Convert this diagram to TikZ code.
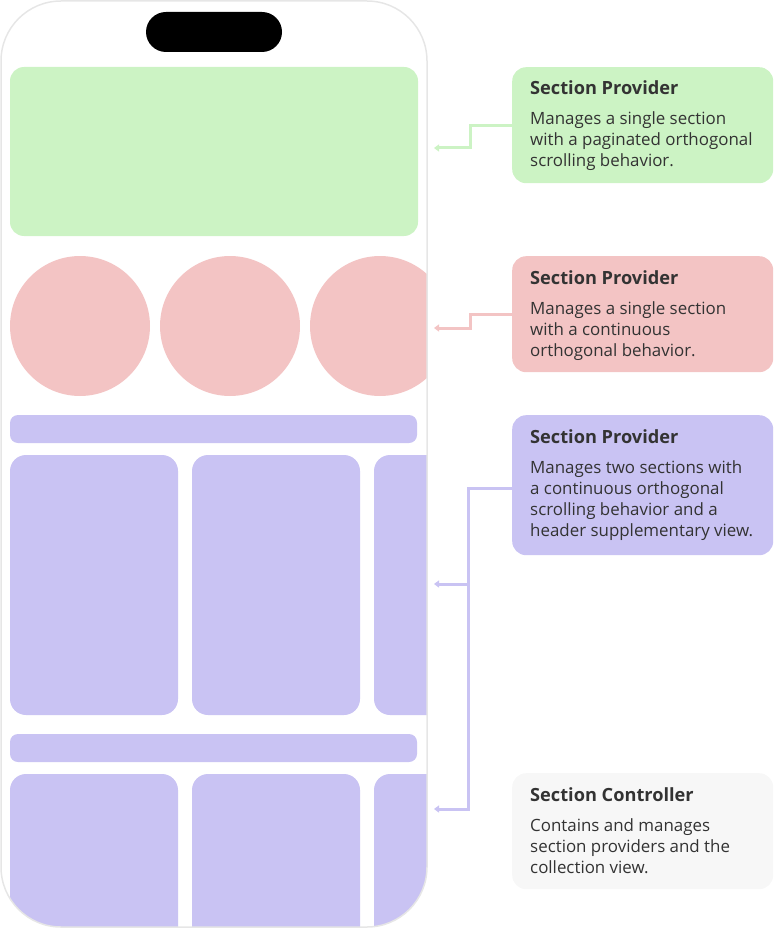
\documentclass[tikz,border=0pt]{standalone}
\usepackage{fontspec}
\setmainfont{Open Sans}
\usetikzlibrary{arrows.meta}
\definecolor{cgreen}{HTML}{CCF3C4}
\definecolor{cpink}{HTML}{F3C4C4}
\definecolor{cpurple}{HTML}{C9C3F3}
\definecolor{cgray}{HTML}{F7F7F7}
\definecolor{ctext}{HTML}{333333}
\definecolor{cborder}{HTML}{E6E6E6}
\tikzset{
  infobox/.style={rectangle, rounded corners=14pt, minimum width=261pt, inner sep=0pt, anchor=north west},
  titletext/.style={anchor=base west, inner sep=0pt, text=ctext, font=\fontsize{18.2}{21}\selectfont\bfseries},
  bodytext/.style={anchor=base west, inner sep=0pt, text=ctext, font=\fontsize{16.9}{21}\selectfont},
  conn/.style={line width=3pt, -{Triangle[length=5pt,width=7pt]}},
  card/.style={rounded corners=16pt},
}
\begin{document}
\begin{tikzpicture}[x=1pt,y=-1pt]
\useasboundingbox (0,0) rectangle (773,928);
% phone contents
\begin{scope}
\clip[rounded corners=60pt] (1,1) rectangle (427,927);
\fill[cgreen, rounded corners=14pt] (10,67) rectangle (418,236);
\foreach \cx in {80,230,380} \fill[cpink] (\cx,326) circle[radius=70pt];
\fill[cpurple, rounded corners=8pt] (10,415) rectangle (417,443);
\foreach \xa in {10,192,374} \fill[cpurple, card] (\xa,455) rectangle ++(168,260);
\fill[cpurple, rounded corners=8pt] (10,734) rectangle (417,762);
\foreach \xa in {10,192,374} \fill[cpurple, card] (\xa,774) rectangle ++(168,220);
\end{scope}
\draw[cborder, line width=1.5pt, rounded corners=60pt] (1,1) rectangle (427,927);
\fill[black, rounded corners=20pt] (146,12) rectangle (282,52);

% info boxes
\node[infobox, fill=cgreen, minimum height=116pt] (gbox) at (512,67) {};
\node[titletext] (gt) at (530,95) {Section Provider};
\node[bodytext] (g1) at (530,125) {Manages a single section};
\node[bodytext] (g2) at (530,146) {with a paginated orthogonal};
\node[bodytext] (g3) at (530,167) {scrolling behavior.};

\node[infobox, fill=cpink, minimum height=116pt] (rbox) at (512,256) {};
\node[titletext] (rt) at (530,284) {Section Provider};
\node[bodytext] (r1) at (530,314) {Manages a single section};
\node[bodytext] (r2) at (530,335) {with a continuous};
\node[bodytext] (r3) at (530,356) {orthogonal behavior.};

\node[infobox, fill=cpurple, minimum height=140pt] (pbox) at (512,415) {};
\node[titletext] (pt) at (530,443) {Section Provider};
\node[bodytext] (p1) at (530,473) {Manages two sections with};
\node[bodytext] (p2) at (530,494) {a continuous orthogonal};
\node[bodytext] (p3) at (530,515) {scrolling behavior and a};
\node[bodytext] (p4) at (530,536) {header supplementary view.};

\node[infobox, fill=cgray, minimum height=116pt] (cbox) at (512,773) {};
\node[titletext] (ct) at (530,801) {Section Controller};
\node[bodytext] (c1) at (530,831) {Contains and manages};
\node[bodytext] (c2) at (530,852) {section providers and the};
\node[bodytext] (c3) at (530,873) {collection view.};

% connectors
\coordinate (gbend) at (470,148);
\coordinate (gtip) at (434,148);
\coordinate (rbend) at (470,328);
\coordinate (rtip) at (434,328);
\coordinate (pbend) at (468,809);
\coordinate (ptipb) at (434,809);
\coordinate (pbranch) at (468,584);
\coordinate (ptipa) at (434,584);
\draw[conn, cgreen] (gbox.west) -| (gbend) -- (gtip);
\draw[conn, cpink] (rbox.west) -| (rbend) -- (rtip);
\draw[conn, cpurple] ([yshift=-3pt]pbox.west) -| (pbend) -- (ptipb);
\draw[conn, cpurple] (pbranch) -- (ptipa);
\end{tikzpicture}
\end{document}
